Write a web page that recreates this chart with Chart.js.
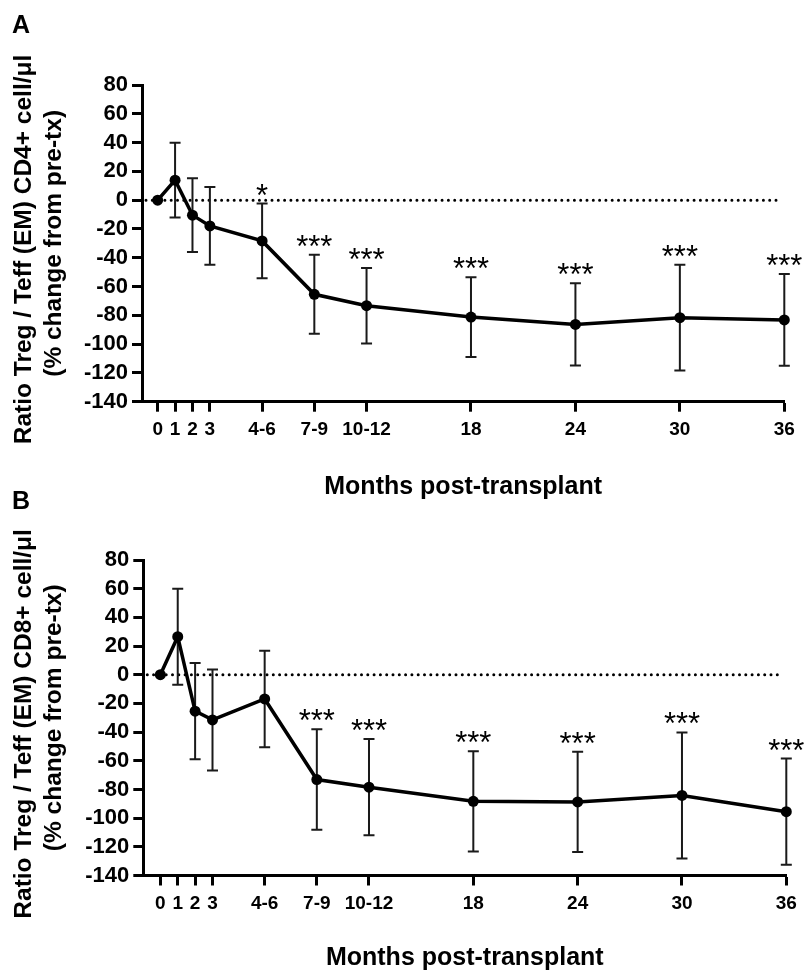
<!DOCTYPE html>
<html>
<head>
<meta charset="utf-8">
<script src="https://cdn.jsdelivr.net/npm/chart.js@4/dist/chart.umd.min.js"></script>
<style>
  body { margin: 0; background: #fff; }
  #wrap { position: relative; width: 804px; height: 975px; }
  canvas { position: absolute; left: 0; }
  .panel { position: absolute; left: 12px; font: bold 25px "Liberation Sans", Arial, sans-serif; line-height: 25px; }
</style>
</head>
<body>
<div id="wrap">
  <canvas id="chartA" width="804" height="510" style="top:0"></canvas>
  <canvas id="chartB" width="804" height="505" style="top:470px"></canvas>
  <div class="panel" style="top:12px">A</div>
  <div class="panel" style="top:488px">B</div>
</div>
<script>
// months post-transplant (x tick labels) and where each sits on the month axis
const monthLabels = ['0', '1', '2', '3', '4-6', '7-9', '10-12', '18', '24', '30', '36'];
const monthPos = [0, 1, 2, 3, 6, 9, 12, 18, 24, 30, 36];
const yTicks = [80, 60, 40, 20, 0, -20, -40, -60, -80, -100, -120, -140];

// panel A: CD4+ ratio, % change from pre-tx (mean, +/- error)
const cd4Mean = [0, 13.9, -10.4, -17.9, -28.3, -65.4, -73.3, -81.2, -86.3, -81.6, -83.2];
const cd4Err = [0, 26, 25.6, 27, 25.9, 27.4, 26.2, 27.7, 28.6, 36.7, 31.9];
const cd4Sig = ['', '', '', '', '*', '***', '***', '***', '***', '***', '***'];

// panel B: CD8+ ratio
const cd8Mean = [0, 26.5, -25.4, -31.5, -16.9, -73.1, -78.4, -88.3, -88.7, -84.2, -95.5];
const cd8Err = [0, 33.5, 33.5, 35.2, 33.6, 35, 33.6, 35, 35, 44, 37];
const cd8Sig = ['', '', '', '', '', '***', '***', '***', '***', '***', '***'];

const FONT = '"Liberation Sans", Arial, sans-serif';

function makePanel(canvasId, mean, err, sig, yTitle, box) {
  const extras = {
    id: 'extras',
    beforeDatasetsDraw(chart) {
      const {ctx, chartArea, scales: {x, y}} = chart;
      ctx.save();
      // dotted zero line
      const y0 = y.getPixelForValue(0);
      ctx.strokeStyle = '#000';
      ctx.lineWidth = 3;
      ctx.lineCap = 'round';
      ctx.setLineDash([0, 6.3]);
      ctx.beginPath();
      ctx.moveTo(chartArea.left + 4, y0);
      ctx.lineTo(chartArea.right - 3, y0);
      ctx.stroke();
      ctx.setLineDash([]);
      // error bars
      ctx.lineCap = 'butt';
      ctx.lineWidth = 2;
      ctx.strokeStyle = '#1a1a1a';
      mean.forEach((m, i) => {
        if (!err[i]) return;
        const px = x.getPixelForValue(monthPos[i]);
        const top = y.getPixelForValue(m + err[i]);
        const bot = y.getPixelForValue(m - err[i]);
        ctx.beginPath();
        ctx.moveTo(px, top); ctx.lineTo(px, bot);
        ctx.moveTo(px - 5.5, top); ctx.lineTo(px + 5.5, top);
        ctx.moveTo(px - 5.5, bot); ctx.lineTo(px + 5.5, bot);
        ctx.stroke();
      });
      ctx.restore();
    },
    afterDatasetsDraw(chart) {
      const {ctx, scales: {x, y}} = chart;
      ctx.save();
      ctx.fillStyle = '#000';
      ctx.font = '31px ' + FONT;
      ctx.textAlign = 'center';
      ctx.textBaseline = 'alphabetic';
      sig.forEach((s, i) => {
        if (!s) return;
        const px = x.getPixelForValue(monthPos[i]);
        const top = y.getPixelForValue(mean[i] + err[i]);
        ctx.fillText(s, px, top + 2);
      });
      ctx.restore();
    }
  };

  return new Chart(document.getElementById(canvasId), {
    type: 'line',
    data: {
      datasets: [{
        data: monthPos.map((m, i) => ({x: m, y: mean[i]})),
        borderColor: '#000',
        backgroundColor: '#000',
        borderWidth: 3.5,
        pointRadius: 5.5,
        pointBackgroundColor: '#000',
        pointBorderWidth: 0,
        tension: 0,
        clip: false
      }]
    },
    options: {
      responsive: false,
      animation: false,
      devicePixelRatio: 1,
      layout: { padding: { top: box.top, right: box.right, left: 0, bottom: 0 } },
      plugins: { legend: { display: false }, tooltip: { enabled: false } },
      scales: {
        x: {
          type: 'linear',
          min: box.xMin,
          max: 36,
          afterBuildTicks: s => { s.ticks = monthPos.map(v => ({value: v})); },
          afterFit: s => { s.height = box.xHeight; },
          grid: { drawOnChartArea: false, drawTicks: true, tickLength: 10, tickWidth: 3, tickColor: '#000' },
          border: { display: true, color: '#000', width: 3 },
          ticks: {
            autoSkip: false, maxRotation: 0, minRotation: 0, padding: 7,
            color: '#000',
            font: { family: FONT, size: 19, weight: 'bold' },
            callback: (v, i) => monthLabels[i]
          },
          title: {
            display: true, text: 'Months post-transplant', color: '#000',
            font: { family: FONT, size: 25, weight: 'bold', lineHeight: 1.2 },
            padding: { top: 0, bottom: box.xTitlePad }
          }
        },
        y: {
          min: -140,
          max: 80,
          afterBuildTicks: s => { s.ticks = yTicks.map(v => ({value: v})); },
          afterFit: s => { s.width = box.left; },
          grid: { drawOnChartArea: false, drawTicks: true, tickLength: 10, tickWidth: 3, tickColor: '#000' },
          border: { display: true, color: '#000', width: 3 },
          ticks: {
            autoSkip: false, padding: 4, color: '#000',
            font: { family: FONT, size: 22, weight: 'bold' }
          },
          title: {
            display: true, text: [yTitle + '\u2002', '(% change from pre-tx)'], color: '#000',
            font: { family: FONT, size: 24.5, weight: 'bold', lineHeight: 1.225 },
            padding: { top: 9, bottom: 0 }
          }
        }
      }
    },
    plugins: [extras]
  });
}

makePanel('chartA', cd4Mean, cd4Err, cd4Sig, 'Ratio Treg / Teff (EM) CD4+ cell/\u03bcl',
  { top: 85, right: 19.7, left: 142, xHeight: 108.3, xMin: -0.9, xTitlePad: 8 });
makePanel('chartB', cd8Mean, cd8Err, cd8Sig, 'Ratio Treg / Teff (EM) CD8+ cell/\u03bcl',
  { top: 90, right: 17.7, left: 143.3, xHeight: 99.5, xMin: -0.98, xTitlePad: 2 });
</script>
</body>
</html>
